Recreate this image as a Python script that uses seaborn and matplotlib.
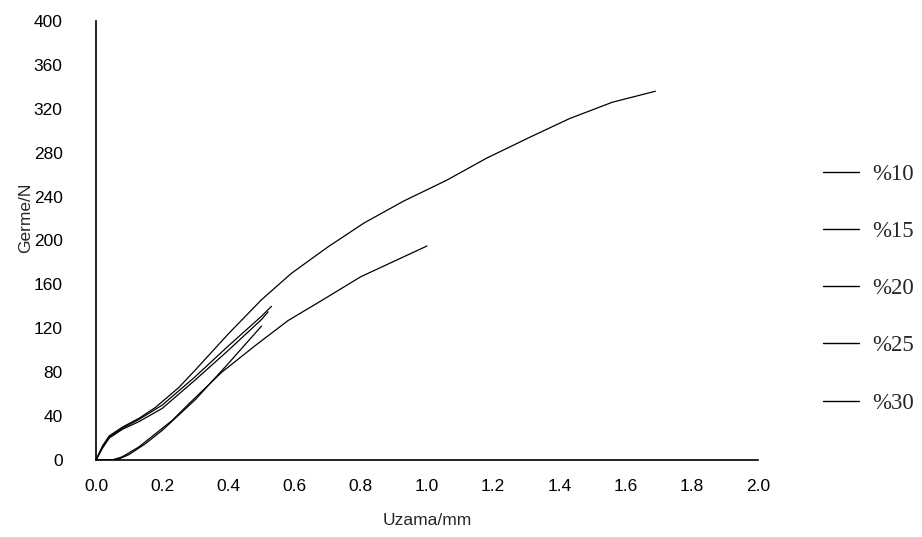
import numpy as np
import pandas as pd
import matplotlib
matplotlib.use("Agg")
import matplotlib.pyplot as plt
import seaborn as sns
from matplotlib.lines import Line2D

# Series (elongation mm, force N)
labels = ["%10", "%15", "%20", "%25", "%30"]

x10 = [0, 0.02, 0.04, 0.08, 0.13, 0.18, 0.25, 0.3, 0.4, 0.5, 0.59, 0.7, 0.81, 0.93, 1.06, 1.18, 1.31, 1.43, 1.56, 1.69]
y10 = [0, 13, 22, 30, 38, 48, 66, 82, 115, 146, 170, 194, 216, 236, 255, 275, 294, 311, 326, 336]

x15 = [0, 0.02, 0.04, 0.08, 0.13, 0.2, 0.3, 0.4, 0.5, 0.53]
y15 = [0, 12, 21, 29, 37, 50, 76, 104, 131, 140]

x20 = [0, 0.02, 0.04, 0.08, 0.13, 0.2, 0.3, 0.4, 0.5, 0.52]
y20 = [0, 11, 20, 28, 35, 47, 73, 100, 128, 135]

x25 = [0, 0.04, 0.07, 0.1, 0.15, 0.2, 0.3, 0.4, 0.5]
y25 = [0, 0, 1, 5, 15, 27, 55, 88, 122]

x30 = [0, 0.05, 0.08, 0.13, 0.18, 0.23, 0.28, 0.38, 0.48, 0.58, 0.68, 0.8, 0.9, 1.0]
y30 = [0, 0, 3, 12, 24, 36, 51, 80, 104, 127, 145, 167, 181, 195]

xs = [x10, x15, x20, x25, x30]
ys = [y10, y15, y20, y25, y30]

frames = []
for lab, xv, yv in zip(labels, xs, ys):
    frames.append(pd.DataFrame({"Uzama": xv, "Germe": yv, "grup": lab}))
df = pd.concat(frames, ignore_index=True)

sns.set_style("white")
plt.rcParams["font.family"] = ["Liberation Sans", "DejaVu Sans"]

fig = plt.figure(figsize=(9.22, 5.37), dpi=100)
ax = fig.add_axes([96 / 922, (537 - 460) / 537, (758 - 96) / 922, (460 - 21) / 537])

sns.lineplot(data=df, x="Uzama", y="Germe", hue="grup", sort=False,
             palette=["black"] * 5, linewidth=0.9, ax=ax, legend=False,
             estimator=None)

ax.set_xlim(0, 2.0)
ax.set_ylim(0, 400)
ax.set_xticks(np.arange(0, 2.01, 0.2))
ax.set_xticklabels([f"{v:.1f}" for v in np.arange(0, 2.01, 0.2)])
ax.set_yticks(np.arange(0, 401, 40))
ax.tick_params(axis="both", length=0, labelsize=12.5, colors="black")
ax.tick_params(axis="y", pad=24)
ax.tick_params(axis="x", pad=14)
for s in ["top", "right"]:
    ax.spines[s].set_visible(False)
for s in ["left", "bottom"]:
    ax.spines[s].set_color("black")
    ax.spines[s].set_linewidth(1.2)

ax.set_xlabel("Uzama/mm", fontsize=12.5)
ax.set_ylabel("Germe/N", fontsize=12.5)
ax.xaxis.set_label_coords(0.5, -0.12)
ax.yaxis.set_label_coords(-0.095, 0.551)

# legend on the right
handles = [Line2D([0], [0], color="black", lw=1.0) for _ in labels]
leg = fig.legend(handles, labels, loc="upper left", bbox_to_anchor=(802 / 922, 1 - 143 / 537),
                 frameon=False, handlelength=1.6, handletextpad=0.55, labelspacing=1.58,
                 prop={"family": "Liberation Serif", "size": 16.5})

fig.savefig("out.png", dpi=100)
